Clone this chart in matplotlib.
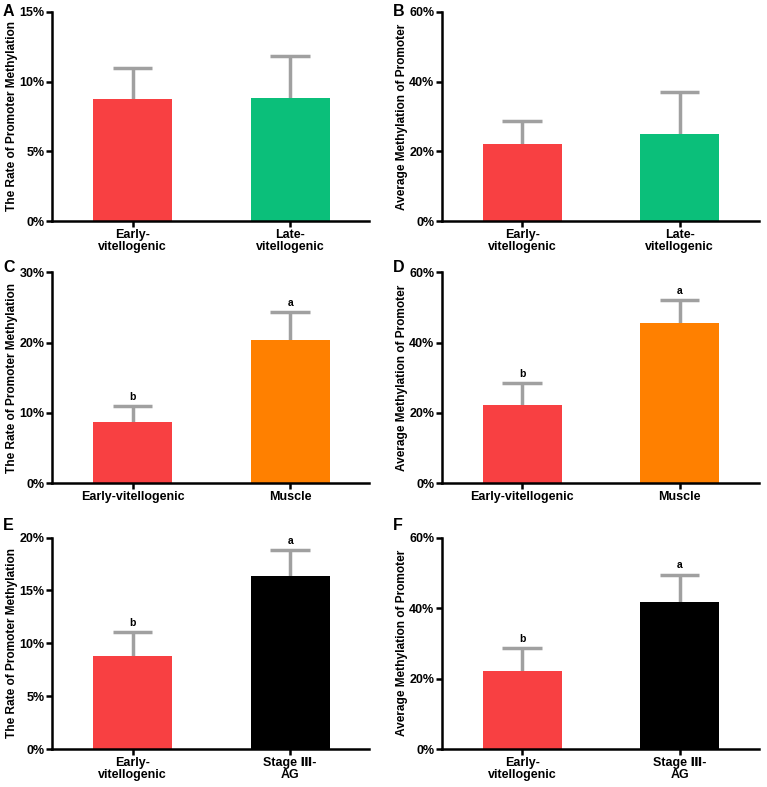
import matplotlib
matplotlib.use('Agg')
import matplotlib.pyplot as plt
from matplotlib.ticker import FuncFormatter

plt.rcParams['font.family'] = ['Liberation Sans', 'DejaVu Sans']
plt.rcParams['font.weight'] = 'bold'

# values in percent
labels_ab = ['Early-\nvitellogenic', 'Late-\nvitellogenic']
labels_cd = ['Early-vitellogenic', 'Muscle']
labels_ef = ['Early-\nvitellogenic', 'Stage \u2162-\nAG']

rate_a = [8.75, 8.85]
rate_a_err = [2.25, 3.0]
avg_b = [22.1, 25.0]
avg_b_err = [6.5, 12.0]
rate_c = [8.7, 20.4]
rate_c_err = [2.3, 4.0]
avg_d = [22.2, 45.5]
avg_d_err = [6.3, 6.5]
rate_e = [8.76, 16.4]
rate_e_err = [2.3, 2.4]
avg_f = [22.2, 41.6]
avg_f_err = [6.5, 7.9]
letters = ['b', 'a']

red = '#F84042'
green = '#0BBF7A'
orange = '#FF8000'
black = '#000000'
err_col = '#A0A0A0'

rate_lab = 'The Rate of Promoter Methylation'
avg_lab = 'Average Methylation of Promoter'

W, H = 767, 787

panels = [
    # tag, rect, tag y (px from top), labels, values, errors, colours, ymax, step, ylabel, show letters
    ['A', [0.068, 0.719, 0.413, 0.266], 11, labels_ab, rate_a, rate_a_err, [red, green], 15, 5, rate_lab, False],
    ['B', [0.576, 0.719, 0.413, 0.266], 11, labels_ab, avg_b, avg_b_err, [red, green], 60, 20, avg_lab, False],
    ['C', [0.068, 0.386, 0.413, 0.268], 268, labels_cd, rate_c, rate_c_err, [red, orange], 30, 10, rate_lab, True],
    ['D', [0.576, 0.386, 0.413, 0.268], 268, labels_cd, avg_d, avg_d_err, [red, orange], 60, 20, avg_lab, True],
    ['E', [0.068, 0.048, 0.413, 0.269], 525, labels_ef, rate_e, rate_e_err, [red, black], 20, 5, rate_lab, True],
    ['F', [0.576, 0.048, 0.413, 0.269], 525, labels_ef, avg_f, avg_f_err, [red, black], 60, 20, avg_lab, True],
]

fig = plt.figure(figsize=(W / 100, H / 100), dpi=100)
bw = 0.5

for tag, rect, tag_y, labs, vals, errs, cols, ymax, step, ylab, show_let in panels:
    ax = fig.add_axes(rect)
    x = list(range(len(vals)))
    tops = [v + e for v, e in zip(vals, errs)]
    ax.bar(x, vals, width=bw, color=cols, zorder=2)
    # upper half of the error bar only, like the original
    ax.vlines(x, vals, tops, color=err_col, lw=2.5, zorder=1)
    ax.hlines(tops, [xi - bw / 4 for xi in x], [xi + bw / 4 for xi in x],
              color=err_col, lw=2.5, zorder=1)
    if show_let:
        for xi, t, l in zip(x, tops, letters):
            ax.annotate(l, (xi, t), xytext=(0, 3), textcoords='offset points',
                        ha='center', va='bottom', fontsize=7.5, fontweight='bold')
    ax.set_xlim(-0.51, 1.5)
    ax.set_ylim(0, ymax)
    ax.set_yticks(range(0, ymax + 1, step))
    ax.yaxis.set_major_formatter(FuncFormatter(lambda v, p: '%d%%' % v))
    ax.set_xticks(x)
    ax.set_xticklabels(labs, fontsize=9, fontweight='bold', linespacing=1.0)
    ax.set_ylabel(ylab, fontsize=8.6, fontweight='bold', labelpad=1)
    for s in ['top', 'right']:
        ax.spines[s].set_visible(False)
    for s in ['left', 'bottom']:
        ax.spines[s].set_linewidth(1.8)
    ax.tick_params(axis='both', width=1.8, length=4, pad=1.5)
    ax.tick_params(axis='y', labelsize=9)
    for t in ax.get_yticklabels():
        t.set_fontweight('bold')
    fig.text(rect[0] - 0.064, 1 - tag_y / H, tag, fontsize=11.5,
             fontweight='bold', va='center', ha='left')

fig.savefig('out.png', dpi=100)
